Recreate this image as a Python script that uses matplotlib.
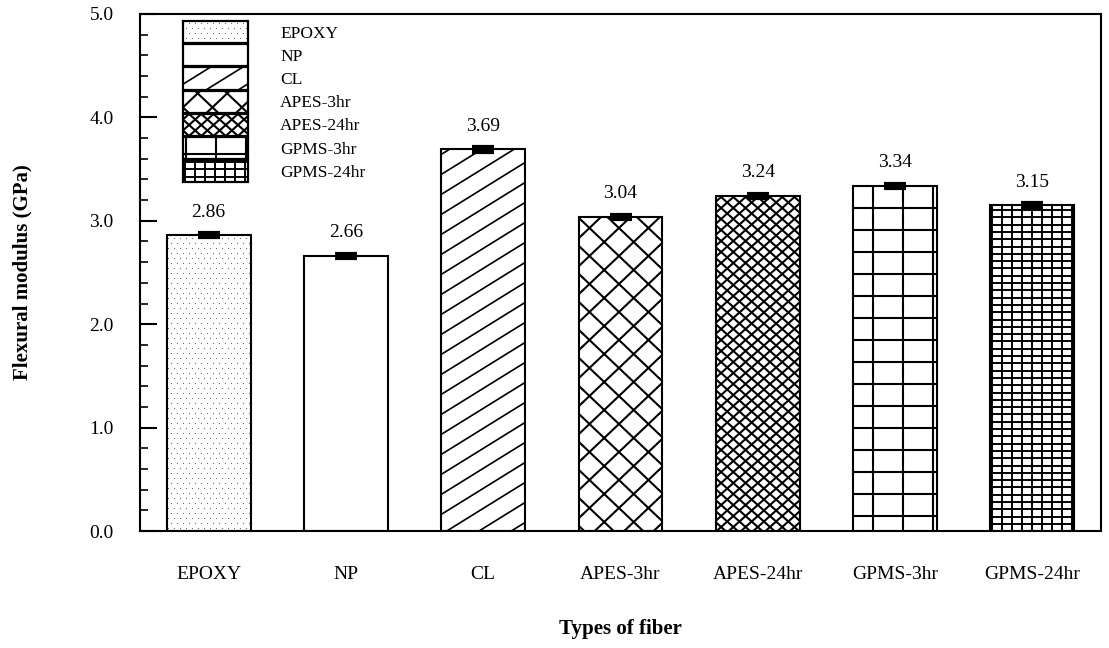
import numpy as np
import matplotlib
matplotlib.use("Agg")
import matplotlib.pyplot as plt
from matplotlib.collections import LineCollection
from matplotlib.lines import Line2D
from matplotlib.patches import Rectangle
from matplotlib.transforms import IdentityTransform
from matplotlib.legend_handler import HandlerBase
from matplotlib.ticker import MultipleLocator, FormatStrFormatter

# ---- data ---------------------------------------------------------------
fibers = ["EPOXY", "NP", "CL", "APES-3hr", "APES-24hr", "GPMS-3hr", "GPMS-24hr"]
modulus = [2.86, 2.66, 3.69, 3.04, 3.24, 3.34, 3.15]
modulus_err = [0.02, 0.02, 0.02, 0.02, 0.02, 0.02, 0.02]

# ---- fill textures (sizes in pixels) -------------------------------------
PATTERNS = {
    "EPOXY": {"dots": (6.0, 5.0)},
    "NP": {},
    "CL": {"lines": [(0.62, 20.0)], "lw": 1.2},
    "APES-3hr": {"lines": [(0.95, 28.0), (-0.95, 28.0)], "lw": 1.5},
    "APES-24hr": {"lines": [(0.9, 11.0), (-0.9, 11.0)], "lw": 1.5},
    "GPMS-3hr": {"vlines": (30.0, 3.0), "hlines": (22.0, 0.0), "lw": 1.5},
    "GPMS-24hr": {"vlines": (10.0, 2.0), "hlines": (7.3, 0.0), "lw": 1.4},
}

DPI = 100
plt.rcParams["font.family"] = ["Liberation Serif", "DejaVu Serif"]


def hatch_segments(x0, y0, w, h, style, scale=1.0):
    """Line segments of a texture, clipped to the rectangle (x0, y0, w, h)."""
    x1, y1 = x0 + w, y0 + h
    segs = []
    for k, dy in style.get("lines", []):
        dy = dy * scale
        cmin = min(y0 - k * x0, y0 - k * x1)
        cmax = max(y1 - k * x0, y1 - k * x1)
        for n in range(int(np.floor(cmin / dy)), int(np.ceil(cmax / dy)) + 1):
            c = n * dy
            xa, xb = (y0 - c) / k, (y1 - c) / k
            lo, hi = max(x0, min(xa, xb)), min(x1, max(xa, xb))
            if hi > lo:
                segs.append([(lo, k * lo + c), (hi, k * hi + c)])
    if "vlines" in style:
        dx, ph = style["vlines"]
        dx, ph = dx * scale, ph * scale
        for n in range(int(np.ceil((x0 - ph) / dx)), int(np.floor((x1 - ph) / dx)) + 1):
            xv = n * dx + ph
            if x0 + 1 < xv < x1 - 1:
                segs.append([(xv, y0), (xv, y1)])
    if "hlines" in style:
        dy, ph = style["hlines"]
        dy, ph = dy * scale, ph * scale
        for n in range(int(np.ceil((y0 - ph) / dy)), int(np.floor((y1 - ph) / dy)) + 1):
            yv = n * dy + ph
            if y0 + 1 < yv < y1 - 1:
                segs.append([(x0, yv), (x1, yv)])
    return segs


def hatch_dots(x0, y0, w, h, style, scale=1.0):
    """Staggered speckle positions inside the rectangle."""
    if "dots" not in style:
        return [], []
    sx, sy = style["dots"][0] * scale, style["dots"][1] * scale
    xs, ys = [], []
    rows = np.arange(np.ceil(y0 / sy) * sy, y0 + h, sy)
    for j, yv in enumerate(rows):
        shift = sx / 2 if j % 2 else 0.0
        cols = np.arange(np.ceil((x0 - shift) / sx) * sx + shift, x0 + w, sx)
        for xv in cols:
            if x0 + 1 < xv < x0 + w - 1 and y0 + 1 < yv < y0 + h - 1:
                xs.append(xv)
                ys.append(yv)
    return xs, ys


class TextureHandler(HandlerBase):
    def __init__(self, style):
        super().__init__()
        self.style = style

    def create_artists(self, legend, orig_handle, xdescent, ydescent,
                       width, height, fontsize, trans):
        x0, y0 = -xdescent, -ydescent
        scale = 72.0 / DPI
        arts = [Rectangle((x0, y0), width, height, facecolor="white",
                          edgecolor="none", transform=trans)]
        segs = hatch_segments(x0, y0, width, height, self.style, scale)
        if segs:
            arts.append(LineCollection(segs, colors="black",
                                       linewidths=self.style.get("lw", 1.2),
                                       transform=trans))
        xs, ys = hatch_dots(x0, y0, width, height, self.style, scale)
        if xs:
            arts.append(Line2D(xs, ys, ls="none", marker="s", ms=0.8,
                               mec="none", mfc="#6e6e6e", transform=trans))
        arts.append(Rectangle((x0, y0), width, height, facecolor="none",
                              edgecolor="black", lw=1.6, transform=trans))
        return arts


fig = plt.figure(figsize=(1109 / DPI, 648 / DPI), dpi=DPI)
ax = fig.add_axes([140 / 1109, 117 / 648, 961 / 1109, 517 / 648])

x = np.arange(len(fibers))
bars = ax.bar(x, modulus, width=0.61, facecolor="none", edgecolor="black",
              linewidth=1.5, zorder=3)
ax.errorbar(x, modulus, yerr=modulus_err, fmt="none", ecolor="black",
            elinewidth=1.5, capsize=8, capthick=3, zorder=4)

ax.set_xlim(-0.5, len(fibers) - 0.5)
ax.set_ylim(0, 5.0)

# textures inside the bars, laid out in pixel space
for bar, name in zip(bars, fibers):
    style = PATTERNS[name]
    bb = bar.get_window_extent()
    segs = hatch_segments(bb.x0, bb.y0, bb.width, bb.height, style)
    if segs:
        lc = LineCollection(segs, colors="black", linewidths=style.get("lw", 1.2),
                            transform=IdentityTransform(), zorder=2)
        ax.add_collection(lc, autolim=False)
    xs, ys = hatch_dots(bb.x0, bb.y0, bb.width, bb.height, style)
    if xs:
        ax.add_artist(Line2D(xs, ys, ls="none", marker="s", ms=0.8, mec="none",
                             mfc="#6e6e6e", transform=IdentityTransform(), zorder=2))

for xi, v in zip(x, modulus):
    ax.annotate(f"{v:.2f}", (xi, v), xytext=(0, 10.5), textcoords="offset points",
                ha="center", va="bottom", fontsize=14)

# axes styling
for side in ["left", "right", "top", "bottom"]:
    ax.spines[side].set_linewidth(1.5)
ax.yaxis.set_major_locator(MultipleLocator(1.0))
ax.yaxis.set_minor_locator(MultipleLocator(0.2))
ax.yaxis.set_major_formatter(FormatStrFormatter("%.1f"))
ax.tick_params(axis="y", which="major", direction="in", length=12, width=1.5,
               labelsize=14, pad=19)
ax.tick_params(axis="y", which="minor", direction="in", length=6, width=1.2)
ax.set_xticks(x)
ax.set_xticklabels(fibers)
ax.tick_params(axis="x", which="both", length=0, labelsize=14, pad=25)

ax.set_ylabel("Flexural modulus (GPa)", fontsize=15, fontweight="bold")
ax.yaxis.set_label_coords(-0.112, 0.5)
ax.set_xlabel("Types of fiber", fontsize=15, fontweight="bold")
ax.xaxis.set_label_coords(0.5, -0.17)

# legend with textured swatches
handles = [Rectangle((0, 0), 1, 1) for _ in fibers]
hmap = {h: TextureHandler(PATTERNS[name]) for h, name in zip(handles, fibers)}
ax.legend(handles, fibers, handler_map=hmap, loc="upper left",
          bbox_to_anchor=(0.0447, 0.986), frameon=False, fontsize=12.5,
          borderpad=0, borderaxespad=0, handlelength=3.75, handleheight=1.58,
          labelspacing=0.06, handletextpad=1.85)

fig.savefig("out.png", dpi=DPI)
